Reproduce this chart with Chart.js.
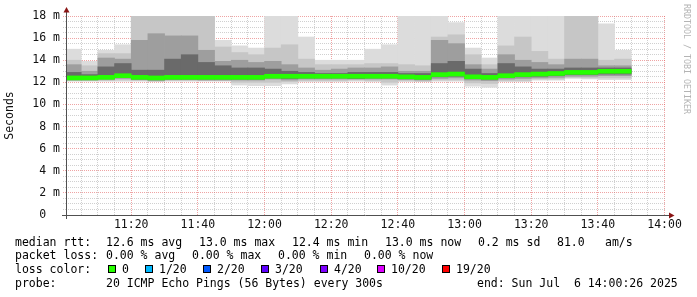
<!DOCTYPE html>
<html><head><meta charset="utf-8">
<script src="https://cdn.jsdelivr.net/npm/chart.js@4"></script>
<style>
html,body{margin:0;padding:0;background:#fff;}
#wrap{position:relative;width:697px;height:297px;overflow:hidden;font-family:'DejaVu Sans Mono',monospace;font-size:11.5px;color:#000;}
#c{position:absolute;left:0;top:0;}
.t{position:absolute;white-space:pre;line-height:14px;}
.box{position:absolute;width:6px;height:6px;border:1px solid #000;}
#wm{position:absolute;left:682px;top:4px;writing-mode:vertical-rl;font-size:8.3px;line-height:10px;color:#b4b4b4;white-space:pre;}
</style></head>
<body><div id="wrap"><canvas id="c" width="697" height="297"></canvas><div id="wm">RRDTOOL / TOBI OETIKER</div><div id="legend"></div></div>
<script>
// 5-minute slots (start times)
const slots = ['11:00','11:05','11:10','11:15','11:20','11:25','11:30','11:35','11:40','11:45','11:50','11:55',
  '12:00','12:05','12:10','12:15','12:20','12:25','12:30','12:35','12:40','12:45','12:50','12:55',
  '13:00','13:05','13:10','13:15','13:20','13:25','13:30','13:35','13:40','13:45'];
// ping distribution per slot (ms), outer to inner
const pingMax  = [15.0,13.9,14.9,15.4,19.5,19.5,19.5,19.5,19.5,15.8,15.3,15.1,19.5,19.5,16.1,14.0,14.0,14.0,15.0,15.4,19.5,19.5,19.5,17.4,15.1,14.2,19.5,19.5,19.5,19.5,19.5,19.5,17.3,14.9];
const pingHi90 = [14.0,13.5,14.6,14.6,18.5,18.5,18.5,18.5,18.5,15.2,14.7,14.5,15.1,15.4,14.1,13.6,13.6,13.6,13.7,13.7,13.6,13.5,16.1,16.3,14.5,13.6,15.3,16.1,14.8,14.1,18.5,18.5,14.0,14.1];
const pingHi75 = [13.6,13.0,14.2,14.1,15.8,16.4,16.2,16.2,14.9,13.9,14.0,13.8,13.9,13.6,13.3,13.1,13.2,13.3,13.3,13.4,13.0,13.0,15.8,15.5,13.6,13.2,14.5,14.0,13.8,13.6,14.1,14.1,13.5,13.5];
const pingHi60 = [12.9,12.7,13.4,13.7,13.1,13.1,14.1,14.5,13.8,13.5,13.3,13.3,13.2,13.0,12.9,12.8,12.8,12.9,12.9,12.9,12.8,12.8,13.7,13.9,13.2,12.8,13.7,13.4,13.2,13.2,13.3,13.3,13.3,13.3];
const medianRtt= [12.4,12.4,12.45,12.6,12.45,12.4,12.45,12.45,12.45,12.45,12.45,12.45,12.55,12.55,12.55,12.55,12.55,12.55,12.55,12.55,12.5,12.45,12.7,12.75,12.5,12.45,12.6,12.7,12.75,12.8,12.9,12.9,13.0,13.0];
const pingLo40 = [12.25,12.25,12.35,12.45,12.3,12.25,12.3,12.3,12.3,12.3,12.3,12.3,12.4,12.35,12.4,12.4,12.4,12.35,12.4,12.4,12.35,12.3,12.5,12.55,12.35,12.3,12.45,12.5,12.55,12.6,12.7,12.7,12.75,12.75];
const pingLo25 = [12.2,12.2,12.25,12.35,12.25,12.15,12.25,12.25,12.2,12.2,12.2,12.2,12.3,12.2,12.3,12.3,12.3,12.3,12.3,12.3,12.25,12.2,12.35,12.4,12.2,12.15,12.3,12.35,12.4,12.45,12.55,12.55,12.6,12.6];
const pingLo10 = [12.15,12.15,12.15,12.2,12.15,12.1,12.15,12.15,12.15,12.15,12.0,12.0,12.0,12.05,12.15,12.15,12.15,12.2,12.15,12.0,12.15,12.1,12.2,12.2,11.95,11.9,12.15,12.15,12.3,12.3,12.45,12.4,12.4,12.4];
const pingMin  = [12.1,12.1,12.1,12.1,12.1,12.05,12.1,12.1,12.1,12.1,11.75,11.7,11.7,11.85,12.05,12.05,12.05,12.1,12.05,11.75,12.05,12.05,12.1,12.1,11.65,11.55,12.05,12.05,12.2,12.2,12.35,12.3,12.25,12.25];
const xTickLabels = ['11:20','11:40','12:00','12:20','12:40','13:00','13:20','13:40','14:00'];
const yTickLabels = ['0  ','2 m','4 m','6 m','8 m','10 m','12 m','14 m','16 m','18 m'];

const legendRows = [
  [['median rtt:',16],['12.6 ms avg',107],['13.0 ms max',200],['12.4 ms min',293],['13.0 ms now',386],['0.2 ms sd',479],['81.0',558],['am/s',606]],
  [['packet loss:',16],['0.00 % avg',107],['0.00 % max',193],['0.00 % min',279],['0.00 % now',365]],
  [['loss color:',16]],
  [['probe:',16],['20 ICMP Echo Pings (56 Bytes) every 300s',107],['end: Sun Jul  6 14:00:26 2025',478]]
];
const lossLabels = ['0','1/20','2/20','3/20','4/20','10/20','19/20'];
const lossColors = ['#26ff00','#00b8ff','#0059ff','#5e00ff','#7e00ff','#dd00ff','#ff0000'];
const lossBoxX = [108,145,203,261,320,377,442];

// build legend
const lg = document.getElementById('legend');
const rowCenters = [241.5,255,269,283];
legendRows.forEach((row,r)=>{
  row.forEach(([txt,x])=>{
    const d=document.createElement('div'); d.className='t'; d.textContent=txt;
    d.style.left=(x-1)+'px'; d.style.top=(rowCenters[r]-7)+'px'; lg.appendChild(d);
  });
});
lossLabels.forEach((lab,i)=>{
  const b=document.createElement('div'); b.className='box'; b.style.background=lossColors[i];
  b.style.left=lossBoxX[i]+'px'; b.style.top=(rowCenters[2]-4)+'px'; lg.appendChild(b);
  const d=document.createElement('div'); d.className='t'; d.textContent=lab;
  d.style.left=(lossBoxX[i]+14)+'px'; d.style.top=(rowCenters[2]-7)+'px'; lg.appendChild(d);
});

function toMin(s){const [h,m]=s.split(':').map(Number);return (h-11)*60+m;}
const xs = slots.map(s=>toMin(s)+2.5);
function band(lo,hi){return xs.map((x,i)=>({x:x,y:[lo[i],hi[i]]}));}
const medHalf = 0.18;
const medData = xs.map((x,i)=>({x:x,y:[medianRtt[i]-medHalf,medianRtt[i]+medHalf]}));

const MONO = "'DejaVu Sans Mono', monospace";
const gridColor = (major)=> major ? 'rgba(225,90,90,0.55)' : 'rgba(170,170,170,0.55)';

const arrows = {
  id:'arrows',
  afterDraw(chart){
    const {ctx, chartArea:{left,right,top,bottom}} = chart;
    ctx.save();
    ctx.strokeStyle='#505050'; ctx.lineWidth=1;
    ctx.beginPath();
    ctx.moveTo(left+0.5, bottom+4); ctx.lineTo(left+0.5, top-4);
    ctx.moveTo(left-4, bottom+0.5); ctx.lineTo(right+3, bottom+0.5);
    ctx.stroke();
    ctx.fillStyle='#8a1414';
    ctx.beginPath();
    ctx.moveTo(left+0.5, top-9); ctx.lineTo(left-2.5, top-3.5); ctx.lineTo(left+3.5, top-3.5); ctx.closePath(); ctx.fill();
    ctx.beginPath();
    ctx.moveTo(right+8.5, bottom+0.5); ctx.lineTo(right+3, bottom-2.5); ctx.lineTo(right+3, bottom+3.5); ctx.closePath(); ctx.fill();
    ctx.restore();
  }
};

const common = {grouped:false, barPercentage:1, categoryPercentage:1, borderWidth:0, clip:0};
new Chart(document.getElementById('c'), {
  type:'bar',
  data:{datasets:[
    Object.assign({label:'median', data:medData, backgroundColor:lossColors[0], order:0}, common),
    Object.assign({label:'p40-p60', data:band(pingLo40,pingHi60), backgroundColor:'#6a6a6a', order:1}, common),
    Object.assign({label:'p25-p75', data:band(pingLo25,pingHi75), backgroundColor:'#9e9e9e', order:2}, common),
    Object.assign({label:'p10-p90', data:band(pingLo10,pingHi90), backgroundColor:'#c6c6c6', order:3}, common),
    Object.assign({label:'min-max', data:band(pingMin,pingMax), backgroundColor:'#dcdcdc', order:4}, common)
  ]},
  options:{
    responsive:false, animation:false, devicePixelRatio:1,
    layout:{padding:{left:0,right:31,top:16,bottom:62}},
    plugins:{legend:{display:false}, tooltip:{enabled:false}},
    scales:{
      x:{type:'linear', offset:false, min:26/60, max:180+26/60, z:1,
        afterBuildTicks(s){const t=[];for(let v=5;v<=180;v+=5)t.push({value:v});s.ticks=t;},
        afterFit(s){s.height=20;},
        ticks:{autoSkip:false, maxRotation:0, minRotation:0, padding:3, color:'#111', font:{family:MONO,size:11.5},
          callback:(v)=> v%20===0 ? xTickLabels[v/20-1] : ''},
        grid:{drawTicks:false, offset:false, color:(c)=>gridColor(c.tick && c.tick.value%20===0), lineWidth:1},
        border:{display:false, dash:[1,1]}
      },
      y:{min:0, max:18, z:1,
        afterBuildTicks(s){const t=[];for(let v=0;v<=18;v+=0.5)t.push({value:v});s.ticks=t;},
        afterFit(s){s.width=66;},
        title:{display:true, text:'Seconds', color:'#111', font:{family:MONO,size:11.5}, padding:{top:3,bottom:0}},
        ticks:{autoSkip:false, padding:3, color:'#111', font:{family:MONO,size:11.5},
          callback:(v)=> v%2===0 ? yTickLabels[v/2] : ''},
        grid:{drawTicks:true, tickLength:3, color:(c)=>gridColor(c.tick && c.tick.value%2===0),
          tickColor:(c)=>gridColor(c.tick && c.tick.value%2===0), tickBorderDash:[1,1], lineWidth:1},
        border:{display:false, dash:[1,1]}
      }
    }
  },
  plugins:[arrows]
});
</script>
</body></html>
